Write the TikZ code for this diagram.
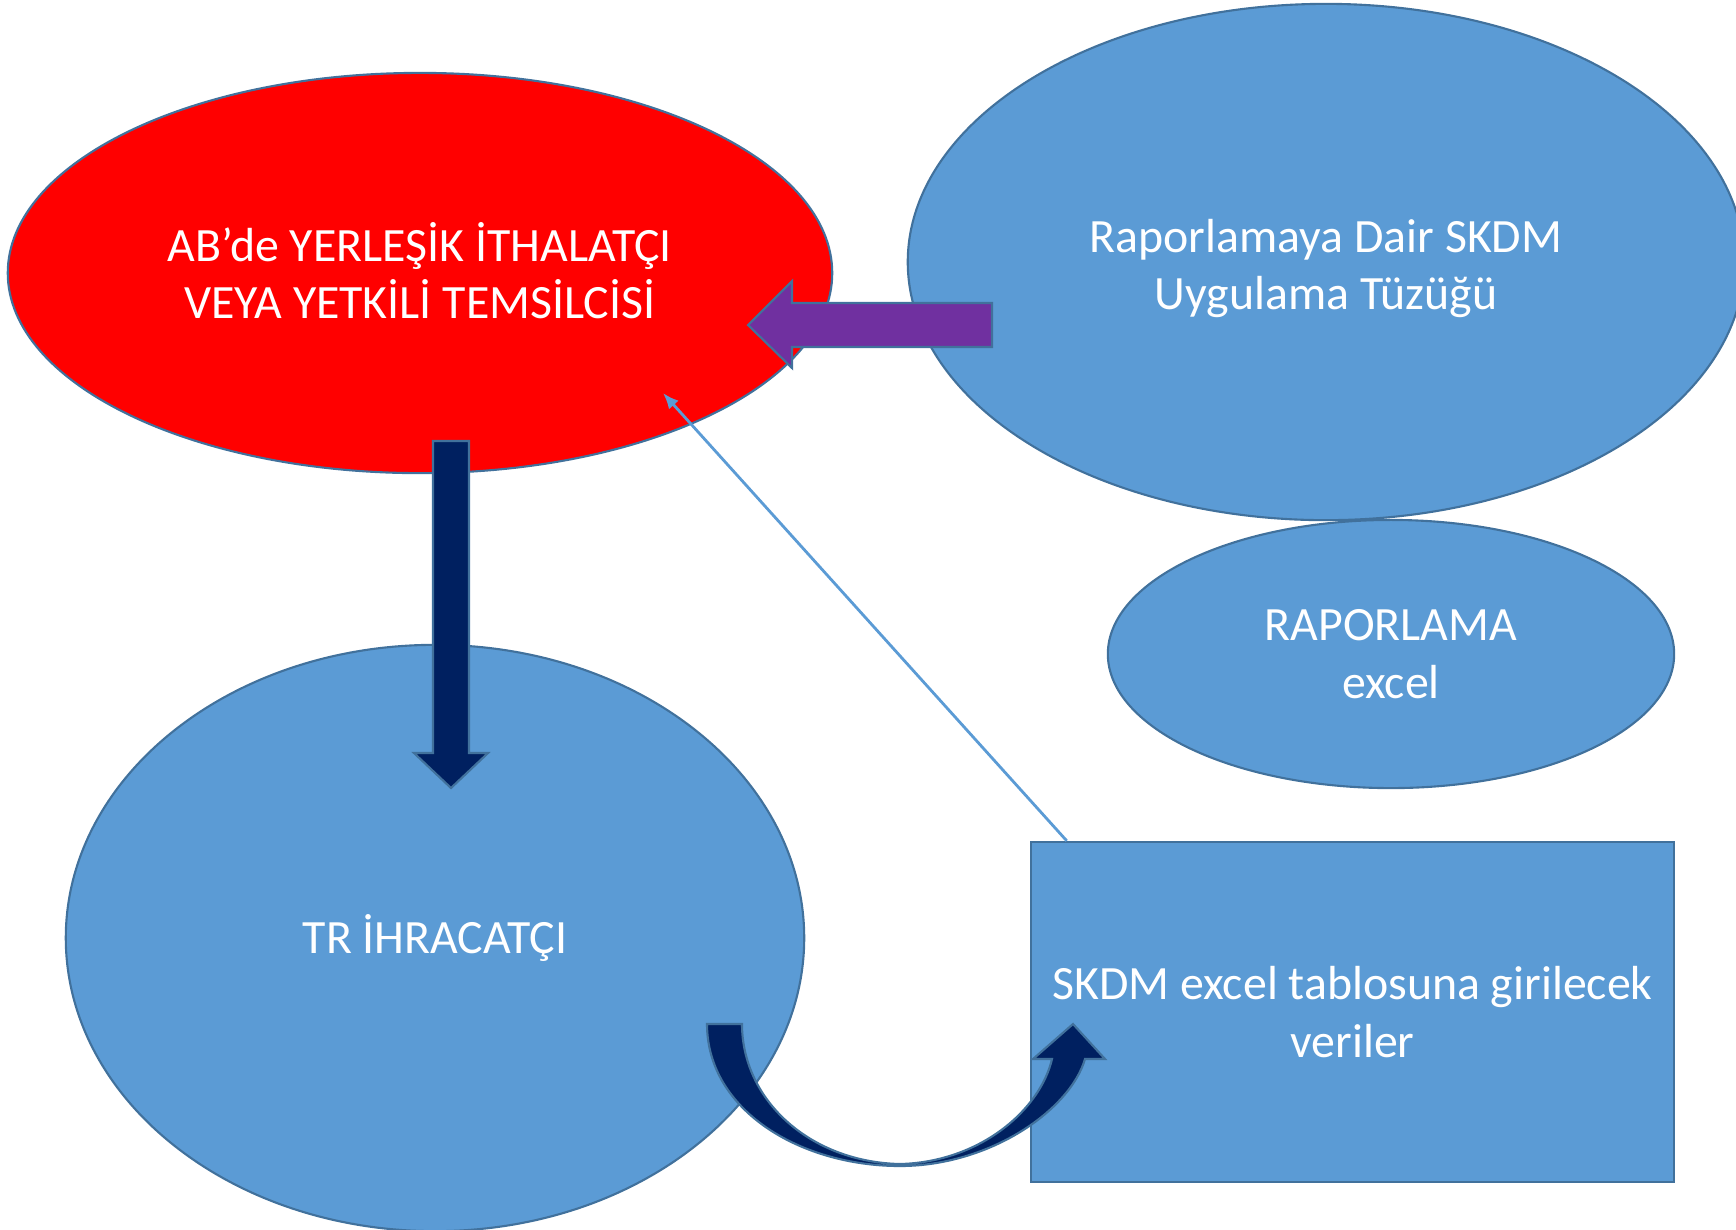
\documentclass[tikz,border=0pt]{standalone}
\usepackage{fontspec}
\setmainfont{Carlito}
\usetikzlibrary{shapes.geometric, arrows.meta, positioning, calc}

\definecolor{skyblue}{HTML}{5B9BD5}
\definecolor{edgeblue}{HTML}{41719C}
\definecolor{navy}{HTML}{002060}
\definecolor{plum}{HTML}{7030A0}

\begin{document}
\begin{tikzpicture}[x=0.01cm, y=-0.01cm,
        redell/.style={ellipse, draw=edgeblue, line width=0.6pt, fill=red, inner sep=0pt, text=white, align=center, font=\fontsize{13.6}{16.3}\selectfont},
        blueell/.style={ellipse, draw=edgeblue, line width=0.6pt, fill=skyblue, inner sep=0pt, text=white, align=center, font=\fontsize{13.6}{16.3}\selectfont},
        bluebox/.style={rectangle, draw=edgeblue, line width=0.6pt, fill=skyblue, inner sep=0pt, text=white, align=center, font=\fontsize{13.6}{16.3}\selectfont},
        blockarrow/.style={draw=edgeblue, line width=0.6pt, line join=miter},
        line/.style={skyblue, line width=0.8pt}
    ]
        \useasboundingbox (0,0) rectangle (1736,1229);

        % Ellipses
        \node[redell, minimum width=8.24cm, minimum height=4cm] (ab) at (420,273) {AB’de YERLEŞİK İTHALATÇI\\VEYA YETKİLİ TEMSİLCİSİ\rule[-1.6pt]{0pt}{0pt}};
        \node[blueell, minimum width=5.66cm, minimum height=2.68cm] (rap) at (1391,654) {RAPORLAMA\\excel};
        \node[blueell, minimum width=8.36cm, minimum height=5.16cm] (tuzuk) at (1326,262) {\rule{0pt}{13pt}Raporlamaya Dair SKDM\\Uygulama Tüzüğü};
        \node[blueell, minimum width=7.38cm, minimum height=5.86cm] (tr) at (435,938) {TR İHRACATÇI};

        % Data box
        \node[bluebox, minimum width=6.43cm, minimum height=3.4cm] (veri) at (1352.5,1012) {SKDM excel tablosuna girilecek\\veriler};

        \draw[line, -{Latex[length=1.6mm, width=1.3mm]}] ($(veri.north west)+(37,0)$) -- ($(ab.center)+(243,120)$);

        % Block arrows
        \draw[blockarrow, fill=plum] (992,303) -- (792,303) -- (792,281) -- (748,325) -- (792,368) -- (792,347) -- (992,347) -- cycle;
        \draw[blockarrow, fill=navy] (433,441) -- (469,441) -- (469,753) -- (488,753) -- (451,788) -- (414,753) -- (433,753) -- cycle;
        \draw[blockarrow, fill=navy] (707,1024) .. controls (707,1110) and (800,1166) .. (900,1166)
            .. controls (990,1166) and (1070,1110) .. (1085,1059) -- (1105,1059) -- (1073,1024) -- (1033,1059) -- (1052,1059)
            .. controls (1040,1110) and (980,1162) .. (900,1164) .. controls (810,1162) and (742,1100) .. (742,1024) -- cycle;
    \end{tikzpicture}
\end{document}
